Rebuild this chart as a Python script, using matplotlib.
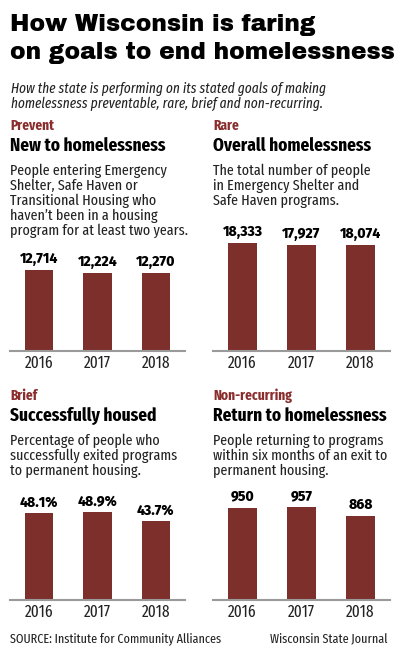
import matplotlib
matplotlib.use("Agg")
import matplotlib.pyplot as plt

# ====================
# === Chart data ===
# ====================
years = ["2016", "2017", "2018"]

new_to_homelessness = [12714, 12224, 12270]
overall_homelessness = [18333, 17927, 18074]
successfully_housed = [48.1, 48.9, 43.7]
return_to_homelessness = [950, 957, 868]

title_lines = ["How Wisconsin is faring", "on goals to end homelessness"]
subtitle_lines = ["How the state is performing on its stated goals of making",
                  "homelessness preventable, rare, brief and non-recurring."]

panels = [
    dict(goal="Prevent", head="New to homelessness",
         desc=["People entering Emergency", "Shelter, Safe Haven or",
               "Transitional Housing who", "haven\u2019t been in a housing",
               "program for at least two years."],
         values=new_to_homelessness, fmt="{:,}"),
    dict(goal="Rare", head="Overall homelessness",
         desc=["The total number of people", "in Emergency Shelter and",
               "Safe Haven programs."],
         values=overall_homelessness, fmt="{:,}"),
    dict(goal="Brief", head="Successfully housed",
         desc=["Percentage of people who", "successfully exited programs",
               "to permanent housing."],
         values=successfully_housed, fmt="{:.1f}%"),
    dict(goal="Non-recurring", head="Return to homelessness",
         desc=["People returning to programs", "within six months of an exit to",
               "permanent housing."],
         values=return_to_homelessness, fmt="{:,}"),
]

source_text = "SOURCE: Institute for Community Alliances"
credit_text = "Wisconsin State Journal"

# ==============
# === Styles ===
# ==============
W, H = 400, 651
BAR = "#7d2f2c"
GOAL = "#8a2d2d"
INK = "#222222"
HEAVY = ["Archivo Black", "DejaVu Sans"]
NARROW = ["Fira Sans Extra Condensed", "DejaVu Sans"]
WIDE = ["Fira Sans", "DejaVu Sans"]

def fx(x): return x / W
def fy(y): return 1 - y / H

fig = plt.figure(figsize=(W / 100, H / 100), dpi=100)
fig.patch.set_facecolor("white")

# title + subtitle
fig.text(fx(10), fy(31), title_lines[0], family=HEAVY, size=16.8,
         color="black", va="baseline")
fig.text(fx(10), fy(59), title_lines[1], family=HEAVY, size=16.8,
         color="black", va="baseline")
for i, line in enumerate(subtitle_lines):
    fig.text(fx(11), fy(93 + 15 * i), line, family=NARROW, style="italic",
             size=10.5, color=INK, va="baseline")

# panel layout: (left x, right x, label baseline, bar baseline, ylim top)
layout = [
    (10, 185, 130, 351, 18835),
    (213, 390, 130, 351, 20370),
    (10, 185, 400, 600, 66.7),
    (213, 390, 400, 600, 1235),
]

for p, (x0, x1, ty, base, ytop) in zip(panels, layout):
    fig.text(fx(x0), fy(ty), p["goal"], family=NARROW, weight="bold",
             size=10.5, color=GOAL, va="baseline")
    fig.text(fx(x0), fy(ty + 21), p["head"], family=NARROW, weight="bold",
             size=13.5, color="black", va="baseline")
    for i, line in enumerate(p["desc"]):
        fig.text(fx(x0), fy(ty + 45 + 15 * i), line, family=NARROW,
                 size=11, color=INK, va="baseline")

    ax = fig.add_axes([fx(x0), fy(base), (x1 - x0) / W, 120 / H])
    ax.bar(range(len(years)), p["values"], width=0.49, color=BAR)
    for i, v in enumerate(p["values"]):
        ax.annotate(p["fmt"].format(v), (i, v), xytext=(0, 5),
                    textcoords="offset points", ha="center", va="baseline",
                    family=WIDE, weight="heavy", size=10, color="black")
    ax.set_xlim(-0.5, len(years) - 0.5)
    ax.set_ylim(0, ytop)
    ax.set_xticks(range(len(years)))
    ax.set_xticklabels(years, family=NARROW, size=12, color=INK)
    ax.tick_params(axis="x", length=0, pad=3)
    ax.set_yticks([])
    for s in ["top", "left", "right"]:
        ax.spines[s].set_visible(False)
    ax.spines["bottom"].set_color("#9a9a9a")
    ax.spines["bottom"].set_linewidth(1.5)
    ax.patch.set_alpha(0)

fig.text(fx(10), fy(642), source_text, family=NARROW, size=9.5,
         color=INK, va="baseline")
fig.text(fx(388), fy(642), credit_text, family=NARROW, size=9.5,
         color=INK, va="baseline", ha="right")

fig.savefig("out.png", dpi=100)
